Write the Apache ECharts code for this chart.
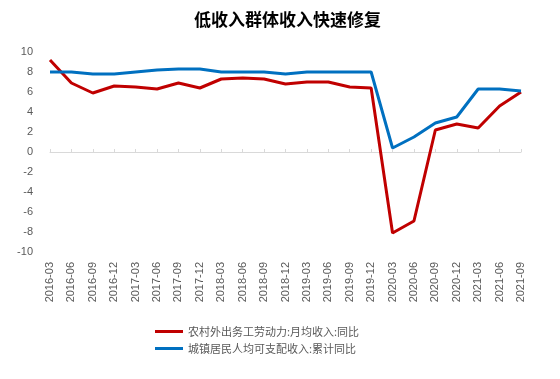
<!DOCTYPE html>
<html>
<head>
<meta charset="utf-8">
<script src="https://cdn.jsdelivr.net/npm/echarts@6/dist/echarts.min.js"></script>
<style>html,body{margin:0;padding:0;background:#fff}#c{width:560px;height:379px}</style>
</head>
<body>
<div id="c"></div>
<script>
const categories = ['2016-03','2016-06','2016-09','2016-12','2017-03','2017-06','2017-09','2017-12','2018-03','2018-06','2018-09','2018-12','2019-03','2019-06','2019-09','2019-12','2020-03','2020-06','2020-09','2020-12','2021-03','2021-06','2021-09'];
const ruralMigrantIncome = [9.2, 6.9, 5.9, 6.6, 6.5, 6.3, 6.9, 6.4, 7.3, 7.4, 7.3, 6.8, 7.0, 7.0, 6.5, 6.4, -8.1, -6.9, 2.2, 2.8, 2.4, 4.6, 6.0];
const urbanDisposableIncome = [8.0, 8.0, 7.8, 7.8, 8.0, 8.2, 8.3, 8.3, 8.0, 8.0, 8.0, 7.8, 8.0, 8.0, 8.0, 8.0, 0.4, 1.5, 2.9, 3.5, 6.3, 6.3, 6.1];
const seriesNames = ['农村外出务工劳动力:月均收入:同比', '城镇居民人均可支配收入:累计同比'];
const titleText = '低收入群体收入快速修复';

const chart = echarts.init(document.getElementById('c'), null, {renderer: 'canvas'});
const fontFam = '"Liberation Sans", "Noto Sans CJK SC", sans-serif';
chart.setOption({
  animation: false,
  backgroundColor: '#ffffff',
  title: {
    text: titleText,
    left: 189,
    top: 6,
    padding: 5,
    textStyle: {fontFamily: '"Noto Sans CJK SC", sans-serif', fontSize: 17, fontWeight: 'bold', color: '#000000'}
  },
  grid: {left: 50, right: 39, top: 52, bottom: 127, containLabel: false},
  legend: {
    orient: 'vertical',
    left: 150,
    top: 321,
    icon: 'rect',
    itemWidth: 28,
    itemHeight: 3,
    itemGap: 6,
    textStyle: {fontFamily: '"Noto Sans CJK SC", sans-serif', fontSize: 11, color: '#595959'},
    data: seriesNames
  },
  xAxis: [{
    type: 'category',
    data: categories,
    boundaryGap: false,
    position: 'bottom',
    axisLine: {show: false, onZero: false},
    axisTick: {show: false},
    axisLabel: {rotate: 90, interval: 0, margin: 10, fontFamily: fontFam, fontSize: 11, color: '#595959'}
  }, {
    type: 'category',
    data: categories,
    boundaryGap: false,
    axisLine: {show: true, onZero: true, lineStyle: {color: '#d9d9d9', width: 1}},
    axisTick: {show: true, interval: 0, length: 3, lineStyle: {color: '#d9d9d9'}},
    axisLabel: {show: false}
  }],
  yAxis: {
    type: 'value',
    min: -10,
    max: 10,
    interval: 2,
    axisLine: {show: false},
    axisTick: {show: false},
    splitLine: {show: false},
    axisLabel: {margin: 17, fontFamily: fontFam, fontSize: 11, color: '#595959'}
  },
  series: [{
    name: seriesNames[0],
    type: 'line',
    xAxisIndex: 0,
    data: ruralMigrantIncome,
    showSymbol: false,
    symbol: 'none',
    lineStyle: {color: '#C00000', width: 3},
    itemStyle: {color: '#C00000'}
  }, {
    name: seriesNames[1],
    type: 'line',
    xAxisIndex: 0,
    data: urbanDisposableIncome,
    showSymbol: false,
    symbol: 'none',
    lineStyle: {color: '#0070C0', width: 3},
    itemStyle: {color: '#0070C0'}
  }]
});
</script>
</body>
</html>
